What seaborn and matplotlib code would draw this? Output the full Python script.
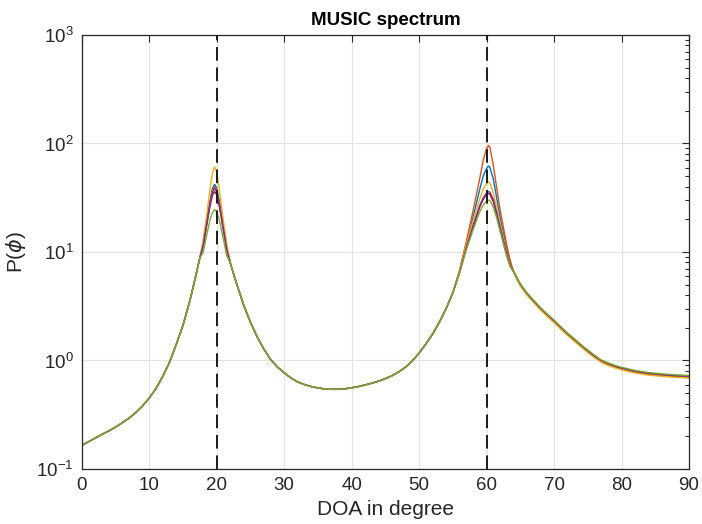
import numpy as np
import pandas as pd
import seaborn as sns
import matplotlib
matplotlib.use("Agg")
import matplotlib.pyplot as plt
from matplotlib.ticker import LogLocator, NullFormatter, MultipleLocator

# ---------------- data ----------------
series_names = ["darkred", "blue", "orange", "yellow", "purple", "green"]
series_colors = ["#A2142F", "#0072BD", "#D95319", "#EDB120", "#7E2F8E", "#77AC30"]
true_doa = [20, 60]

doa_left = [0, 1, 2, 3, 4, 5, 6, 7, 8, 9, 10, 11, 12, 13, 14, 15, 16, 16.5, 17, 17.5]
p_left = [0.165, 0.178, 0.193, 0.208, 0.224, 0.243, 0.266, 0.294, 0.33, 0.38,
          0.45, 0.55, 0.71, 0.96, 1.4, 2.1, 3.5, 4.7, 6.4, 8.8]

doa_pk1 = [18, 18.5, 19, 19.4, 19.7, 20, 20.4, 21, 21.5]
pk1_darkred = [11.3, 17.2, 26.2, 33.7, 36.0, 33.7, 26.2, 15.8, 10.4]
pk1_blue = [11.8, 18.5, 29.3, 38.9, 42.0, 38.9, 29.3, 16.9, 10.9]
pk1_orange = [11.7, 18.1, 28.3, 37.2, 40.0, 37.2, 28.3, 16.5, 10.75]
pk1_yellow = [13.0, 21.5, 37.5, 54.6, 61.0, 54.6, 37.5, 19.3, 11.8]
pk1_purple = [11.6, 17.8, 27.5, 36.0, 38.5, 36.0, 27.5, 16.3, 10.6]
pk1_green = [9.85, 14.1, 19.6, 23.4, 24.5, 23.4, 19.6, 13.1, 9.2]

doa_mid = [22, 22.5, 23, 24, 25, 26, 27, 28, 29, 30, 31, 32, 33, 34, 35, 36, 37,
           38, 39, 40, 41, 42, 43, 44, 45, 46, 47, 48, 49, 50, 51, 52, 53, 54, 55]
p_mid = [8.0, 6.3, 5.0, 3.25, 2.25, 1.65, 1.27, 1.02, 0.87, 0.77, 0.69, 0.635,
         0.6, 0.575, 0.558, 0.547, 0.542, 0.542, 0.548, 0.56, 0.575, 0.595, 0.618,
         0.645, 0.68, 0.725, 0.785, 0.87, 0.99, 1.17, 1.42, 1.75, 2.25, 3.0, 4.2]

doa_pk2 = [56, 57, 58, 59, 59.5, 60, 60.3, 60.5, 61, 61.5, 62, 63, 63.5]
pk2_darkred = [6.5, 10.9, 17.2, 26.0, 30.5, 34.0, 34.5, 34.0, 29.0, 22.3, 16.5, 9.3, 7.4]
pk2_blue = [6.6, 12.0, 21.0, 38.0, 50.0, 59.0, 62.0, 60.0, 47.0, 31.5, 21.0, 10.5, 7.9]
pk2_orange = [6.8, 12.5, 24.0, 48.0, 70.0, 90.0, 96.0, 92.0, 63.0, 39.0, 24.5, 11.5, 8.4]
pk2_yellow = [6.7, 11.8, 19.5, 31.0, 38.0, 43.0, 44.0, 43.0, 35.0, 26.0, 18.5, 9.7, 7.5]
pk2_purple = [6.5, 11.0, 17.5, 27.0, 31.5, 35.0, 36.0, 35.5, 30.5, 23.0, 17.0, 9.4, 7.45]
pk2_green = [6.4, 10.5, 16.0, 23.5, 27.0, 29.5, 30.0, 29.8, 26.0, 20.5, 15.5, 9.0, 7.3]

doa_right = [64, 64.5, 65, 66, 67, 68, 69, 70, 71, 72, 73, 74, 75, 76, 77, 78, 79,
             80, 82, 84, 86, 88, 90]
tail_darkred = [6.6, 5.7, 5.0, 4.1, 3.5, 3.0, 2.62, 2.3, 2.0, 1.75, 1.55, 1.37,
                1.22, 1.09, 0.99, 0.93, 0.88, 0.845, 0.79, 0.755, 0.735, 0.72, 0.71]
tail_blue = [6.6, 5.7, 5.0, 4.1, 3.5, 3.0, 2.62, 2.3, 2.0, 1.75, 1.55, 1.37,
             1.22, 1.09, 0.99, 0.93, 0.88, 0.845, 0.79, 0.755, 0.735, 0.72, 0.71]
tail_orange = [6.6, 5.65, 4.93, 4.04, 3.45, 2.95, 2.58, 2.27, 1.97, 1.72, 1.53, 1.35,
               1.2, 1.07, 0.975, 0.916, 0.867, 0.832, 0.778, 0.744, 0.724, 0.709, 0.699]
tail_yellow = [6.5, 5.55, 4.85, 3.98, 3.4, 2.91, 2.54, 2.23, 1.94, 1.7, 1.5, 1.33,
               1.18, 1.06, 0.96, 0.9, 0.855, 0.82, 0.766, 0.732, 0.713, 0.698, 0.689]
tail_purple = [6.65, 5.75, 5.05, 4.14, 3.53, 3.03, 2.65, 2.32, 2.02, 1.77, 1.57, 1.38,
               1.23, 1.1, 1.0, 0.94, 0.889, 0.853, 0.798, 0.763, 0.742, 0.727, 0.717]
tail_green = [6.7, 5.8, 5.1, 4.2, 3.58, 3.07, 2.68, 2.36, 2.05, 1.79, 1.59, 1.4,
              1.25, 1.12, 1.01, 0.953, 0.902, 0.866, 0.81, 0.774, 0.753, 0.738, 0.728]

pk1_all = [pk1_darkred, pk1_blue, pk1_orange, pk1_yellow, pk1_purple, pk1_green]
pk2_all = [pk2_darkred, pk2_blue, pk2_orange, pk2_yellow, pk2_purple, pk2_green]
tail_all = [tail_darkred, tail_blue, tail_orange, tail_yellow, tail_purple, tail_green]

doa = doa_left + doa_pk1 + doa_mid + doa_pk2 + doa_right
rows = []
for name, a, b, c in zip(series_names, pk1_all, pk2_all, tail_all):
    vals = p_left + a + p_mid + b + c
    assert len(vals) == len(doa)
    for x, v in zip(doa, vals):
        rows.append({"doa": x, "P": v, "series": name})
df = pd.DataFrame(rows)

# ---------------- style ----------------
sns.set_style("white")
plt.rcParams['font.family'] = ['Liberation Sans', 'DejaVu Sans']
plt.rcParams['mathtext.fontset'] = 'dejavusans'

axis_color = "#262626"
fig = plt.figure(figsize=(7.02, 5.24), dpi=100)
ax = fig.add_axes([0.1164, 0.105, 0.8651, 0.8283])

sns.lineplot(data=df, x="doa", y="P", hue="series", hue_order=series_names,
             palette=dict(zip(series_names, series_colors)), estimator=None,
             sort=False, linewidth=1.0, legend=False, ax=ax)

for d in true_doa:
    ax.axvline(d, color="#1a1a1a", lw=1.4, ls=(0, (7, 3.5)), zorder=5)

ax.set_yscale("log")
ax.set_xlim(0, 90)
ax.set_ylim(0.1, 1000)
ax.xaxis.set_major_locator(MultipleLocator(10))
ax.yaxis.set_major_locator(LogLocator(base=10, numticks=10))
ax.yaxis.set_minor_locator(LogLocator(base=10, subs=np.arange(2, 10), numticks=20))
ax.yaxis.set_minor_formatter(NullFormatter())

ax.grid(True, which="major", color="#e3e3e3", lw=0.8)
ax.set_axisbelow(True)
for s in ax.spines.values():
    s.set_color(axis_color)
    s.set_linewidth(0.9)
    s.set_visible(True)

ax.tick_params(which="both", direction="in", top=True, right=True,
               color=axis_color, labelcolor=axis_color, width=0.8)
ax.tick_params(which="major", length=5, labelsize=13.5, pad=6)
ax.tick_params(which="minor", length=2.8)

ax.set_xlabel("DOA in degree", fontsize=15, color=axis_color, labelpad=4)
ax.set_ylabel(r"P($\phi$)", fontsize=15, color=axis_color, labelpad=6)
ax.set_title("MUSIC spectrum", fontsize=13.5, fontweight="bold", color="black", pad=7)

fig.savefig("out.png", dpi=100)
